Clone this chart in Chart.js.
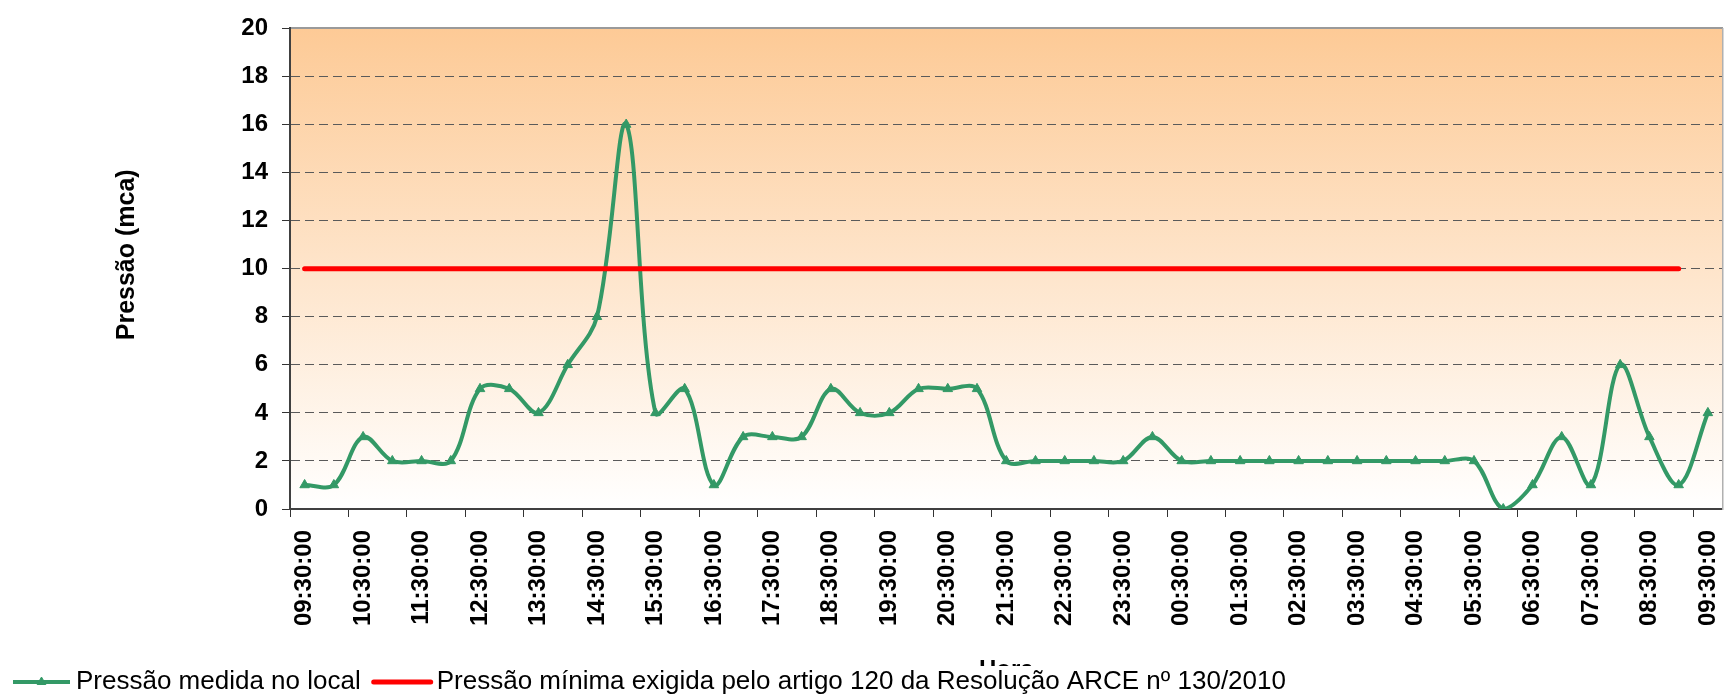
<!DOCTYPE html>
<html>
<head>
<meta charset="utf-8">
<script src="https://cdn.jsdelivr.net/npm/chart.js@4/dist/chart.umd.min.js"></script>
<style>
  html, body { margin: 0; padding: 0; background: #ffffff; }
  #wrap { width: 1729px; height: 697px; }
</style>
</head>
<body>
<div id="wrap"><canvas id="c" width="1729" height="697"></canvas></div>
<script>
const timeLabels = [
  '09:30:00','10:00:00','10:30:00','11:00:00','11:30:00','12:00:00','12:30:00','13:00:00',
  '13:30:00','14:00:00','14:30:00','15:00:00','15:30:00','16:00:00','16:30:00','17:00:00',
  '17:30:00','18:00:00','18:30:00','19:00:00','19:30:00','20:00:00','20:30:00','21:00:00',
  '21:30:00','22:00:00','22:30:00','23:00:00','23:30:00','00:00:00','00:30:00','01:00:00',
  '01:30:00','02:00:00','02:30:00','03:00:00','03:30:00','04:00:00','04:30:00','05:00:00',
  '05:30:00','06:00:00','06:30:00','07:00:00','07:30:00','08:00:00','08:30:00','09:00:00',
  '09:30:00'
];
const measuredPressure = [
  1, 1, 3, 2, 2, 2, 5, 5, 4, 6, 8, 16, 4, 5, 1, 3, 3, 3, 5, 4, 4, 5, 5, 5, 2,
  2, 2, 2, 2,
  3, 2, 2, 2, 2, 2, 2, 2, 2, 2, 2, 2,
  0, 1, 3, 1, 6, 3, 1, 4
];
const minimumPressure = [
  10,10,10,10,10,10,10,10,10,10,10,10,10,10,10,10,10,10,10,10,10,10,10,10,
  10,10,10,10,10,10,10,10,10,10,10,10,10,10,10,10,10,10,10,10,10,10,10,10,
  null
];
const yTicks = [0, 2, 4, 6, 8, 10, 12, 14, 16, 18, 20];
const seriesNames = ['Pressão medida no local', 'Pressão mínima exigida pelo artigo 120 da Resolução ARCE nº 130/2010'];
const yTitle = 'Pressão (mca)';
const xTitle = 'Hora';

const GREEN = '#339966';
const RED = '#ff0000';
const FONT = "'Liberation Sans', Arial, Helvetica, sans-serif";
const LEGEND_BOX = 59;

Chart.defaults.font.family = FONT;
Chart.defaults.color = '#000000';

const canvas = document.getElementById('c');
const ctx2d = canvas.getContext('2d');

// x-axis title partly hidden behind the legend
const horaColor = ctx2d.createLinearGradient(0, -30, 0, 30);
horaColor.addColorStop(0, '#000000');
horaColor.addColorStop(26 / 60, '#000000');
horaColor.addColorStop(26 / 60 + 0.001, 'rgba(0,0,0,0)');
horaColor.addColorStop(1, 'rgba(0,0,0,0)');

const plotBackground = {
  id: 'plotBackground',
  beforeDraw(chart) {
    const a = chart.chartArea;
    const c = chart.ctx;
    const g = c.createLinearGradient(0, a.top, 0, a.bottom);
    g.addColorStop(0, '#fdca96');
    g.addColorStop(1, '#ffffff');
    c.save();
    c.fillStyle = g;
    c.fillRect(a.left, a.top, a.right - a.left, a.bottom - a.top);
    c.restore();
  }
};

const legendSwatches = {
  id: 'legendSwatches',
  afterDraw(chart) {
    const lg = chart.legend;
    if (!lg || !lg.legendHitBoxes) return;
    const c = chart.ctx;
    const fs = lg.options.labels.font.size;
    lg.legendHitBoxes.forEach((hb, i) => {
      const item = lg.legendItems[i];
      const ds = chart.data.datasets[item.datasetIndex];
      const textX = hb.left + LEGEND_BOX + fs / 2;
      const x1 = textX - 6, x0 = x1 - 57;
      const y = hb.top + hb.height / 2;
      c.save();
      c.strokeStyle = ds.borderColor;
      c.lineWidth = ds.borderWidth;
      c.lineCap = ds.borderCapStyle || 'butt';
      c.beginPath();
      c.moveTo(x0, y);
      c.lineTo(x1, y);
      c.stroke();
      if (ds.pointRadius > 0) {
        c.fillStyle = ds.pointBackgroundColor;
        c.strokeStyle = ds.pointBorderColor;
        c.lineWidth = 1;
        Chart.helpers.drawPoint(c, {pointStyle: ds.pointStyle, radius: 5, rotation: 0, borderWidth: 1}, (x0 + x1) / 2, y);
      }
      c.restore();
    });
  }
};

new Chart(canvas, {
  type: 'line',
  data: {
    labels: timeLabels,
    datasets: [
      {
        label: seriesNames[0],
        data: measuredPressure,
        borderColor: GREEN,
        backgroundColor: GREEN,
        borderWidth: 4,
        tension: 0.35,
        pointStyle: 'triangle',
        pointRadius: 5.5,
        pointBackgroundColor: GREEN,
        pointBorderColor: GREEN,
        pointBorderWidth: 1,
        fill: false,
        order: 1
      },
      {
        label: seriesNames[1],
        data: minimumPressure,
        borderColor: RED,
        backgroundColor: RED,
        borderWidth: 5,
        borderCapStyle: 'round',
        pointRadius: 0,
        tension: 0,
        fill: false,
        order: 0
      }
    ]
  },
  options: {
    responsive: false,
    animation: false,
    events: [],
    layout: { padding: { left: 0, right: 2, top: 22, bottom: -8 } },
    plugins: {
      tooltip: { enabled: false },
      legend: {
        display: true,
        position: 'bottom',
        align: 'start',
        labels: {
          boxWidth: LEGEND_BOX,
          boxHeight: 4,
          padding: 4,
          color: '#000000',
          font: { size: 26, family: FONT },
          sort: (a, b) => a.datasetIndex - b.datasetIndex,
          generateLabels(chart) {
            const items = Chart.defaults.plugins.legend.labels.generateLabels(chart);
            items.forEach(it => {
              it.fillStyle = 'rgba(0,0,0,0)';
              it.strokeStyle = 'rgba(0,0,0,0)';
              it.lineWidth = 0;
            });
            return items;
          }
        }
      }
    },
    scales: {
      x: {
        type: 'category',
        position: 'bottom',
        offset: true,
        afterFit(scale) {
          scale.height = 156;
          scale.paddingLeft = 0;
          scale.paddingRight = 0;
        },
        grid: {
          offset: true,
          drawOnChartArea: false,
          drawTicks: true,
          tickLength: 8,
          tickWidth: 1,
          tickColor: (c) => (c.index % 2 === 0 ? '#333333' : 'rgba(0,0,0,0)')
        },
        border: { display: true, color: '#404040', width: 2 },
        ticks: {
          autoSkip: false,
          maxRotation: 90,
          minRotation: 90,
          padding: 13,
          color: '#000000',
          font: { size: 24, weight: 'bold', family: FONT },
          callback: function (value, index) {
            return index % 2 === 0 ? this.getLabelForValue(value) : '';
          }
        },
        title: {
          display: true,
          text: xTitle,
          color: horaColor,
          font: { size: 24, weight: 'bold', family: FONT },
          padding: { top: 0, bottom: -19.4 }
        }
      },
      x2: {
        type: 'category',
        position: 'top',
        labels: timeLabels,
        offset: true,
        grid: { drawOnChartArea: false, drawTicks: false },
        border: { display: true, color: '#9a9a9a', width: 2 },
        ticks: { display: false }
      },
      y: {
        type: 'linear',
        position: 'left',
        min: 0,
        max: 20,
        afterFit(scale) { scale.width = 290; },
        afterBuildTicks(scale) { scale.ticks = yTicks.map(v => ({ value: v })); },
        grid: {
          drawTicks: true,
          tickLength: 8,
          tickWidth: 1,
          tickColor: '#333333',
          lineWidth: 1,
          color: (c) => (c.tick && (c.tick.value === 0 || c.tick.value === 20)) ? 'rgba(0,0,0,0)' : '#5a5a5a'
        },
        border: { display: true, color: '#404040', width: 2, dash: [9, 5] },
        ticks: {
          padding: 14,
          color: '#000000',
          font: { size: 24, weight: 'bold', family: FONT }
        },
        title: {
          display: true,
          text: '    ' + yTitle,
          color: '#000000',
          font: { size: 25, weight: 'bold', family: FONT },
          padding: { top: 112, bottom: 0 }
        }
      },
      y2: {
        type: 'linear',
        position: 'right',
        min: 0,
        max: 20,
        grid: { drawOnChartArea: false, drawTicks: false },
        border: { display: true, color: '#b0b0b0', width: 1.5 },
        ticks: { display: false }
      }
    }
  },
  plugins: [plotBackground, legendSwatches]
});
</script>
</body>
</html>
